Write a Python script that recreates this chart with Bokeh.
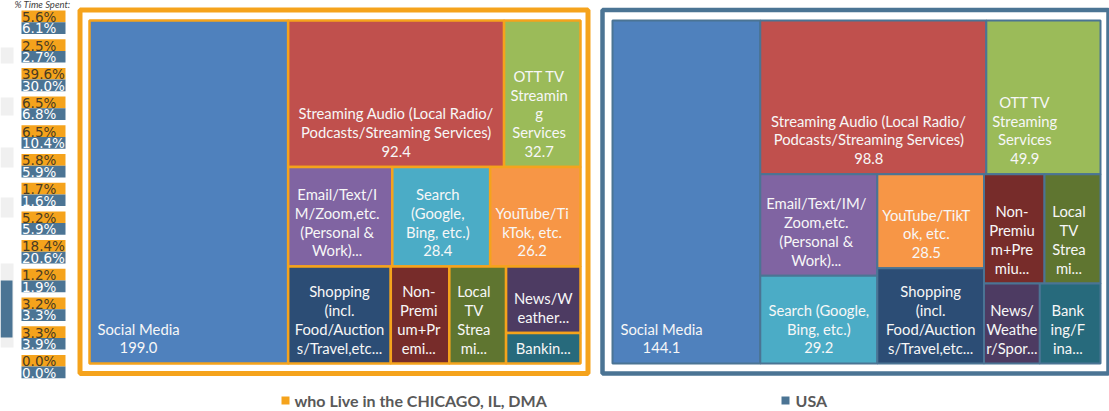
from bokeh.plotting import figure
from bokeh.models import Range1d, ColumnDataSource
from bokeh.embed import file_html
from bokeh.resources import INLINE
from bokeh.core.properties import value

# ---------------- data ----------------
categories = [
    "Social Media",
    "Streaming Audio (Local Radio/Podcasts/Streaming Services)",
    "OTT TV Streaming Services",
    "Email/Text/IM/Zoom,etc. (Personal & Work)",
    "Search (Google, Bing, etc.)",
    "YouTube/TikTok, etc.",
    "Shopping (incl. Food/Auctions/Travel,etc.)",
    "Non-Premium+Premium",
    "Local TV Streaming",
    "News/Weather/Sports",
    "Banking/Finance",
]
chicago_minutes = [199.0, 92.4, 32.7, 30.2, 28.4, 26.2, 29.1, 16.6, 16.1, 14.5, 6.6]
usa_minutes = [144.1, 98.8, 49.9, 33.8, 29.2, 28.5, 28.9, 18.8, 17.4, 12.7, 13.8]

cell_colors = ["#4F81BD", "#C0504D", "#9BBB59", "#8064A2", "#4BACC6", "#F79646",
               "#2C4D75", "#772C2A", "#5F7530", "#4D3B62", "#276A7C"]

chicago_labels = [
    ["Social Media", "199.0"],
    ["Streaming Audio (Local Radio/", "Podcasts/Streaming Services)", "92.4"],
    ["OTT TV", "Streamin", "g", "Services", "32.7"],
    ["Email/Text/I", "M/Zoom,etc.", "(Personal &", "Work)..."],
    ["Search", "(Google,", "Bing, etc.)", "28.4"],
    ["YouTube/Ti", "kTok, etc.", "26.2"],
    ["Shopping", "(incl.", "Food/Auction", "s/Travel,etc..."],
    ["Non-", "Premi", "um+Pr", "emi..."],
    ["Local", "TV", "Strea", "mi..."],
    ["News/W", "eather..."],
    ["Bankin..."],
]
usa_labels = [
    ["Social Media", "144.1"],
    ["Streaming Audio (Local Radio/", "Podcasts/Streaming Services)", "98.8"],
    ["OTT TV", "Streaming", "Services", "49.9"],
    ["Email/Text/IM/", "Zoom,etc.", "(Personal &", "Work)..."],
    ["Search (Google,", "Bing, etc.)", "29.2"],
    ["YouTube/TikT", "ok, etc.", "28.5"],
    ["Shopping", "(incl.", "Food/Auction", "s/Travel,etc..."],
    ["Non-", "Premiu", "m+Pre", "miu..."],
    ["Local", "TV", "Strea", "mi..."],
    ["News/", "Weathe", "r/Spor..."],
    ["Bank", "ing/F", "ina..."],
]

pct_chicago = [5.6, 2.5, 39.6, 6.5, 6.5, 5.8, 1.7, 5.2, 18.4, 1.2, 3.2, 3.3, 0.0]
pct_usa = [6.1, 2.7, 30.0, 6.8, 10.4, 5.9, 1.6, 5.9, 20.6, 1.9, 3.3, 3.9, 0.0]

legend_labels = ["who Live in the CHICAGO, IL, DMA", "USA"]

# layout trees (h = side by side, v = stacked), leaves are category indices
chicago_tree = ("h", [0, ("v", [("h", [1, 2]), ("h", [3, 4, 5]),
                                ("h", [6, 7, 8, ("v", [9, 10])])])])
usa_tree = ("h", [0, ("v", [("h", [1, 2]),
                            ("h", [("v", [3, 4]), ("v", [5, 6]),
                                   ("v", [("h", [7, 8]), ("h", [9, 10])])])])])

ORANGE = "#F5A31C"
STEEL = "#4B7494"
FONT = "Lato"

# ---------------- figure ----------------
W, H = 1109, 411
p = figure(width=W, height=H, x_range=Range1d(0, W), y_range=Range1d(H, 0),
           output_backend="svg", toolbar_location=None, min_border=0,
           x_axis_type=None, y_axis_type=None)
p.grid.visible = False
p.outline_line_color = None
p.background_fill_color = "white"
p.border_fill_color = "white"


def total(node, vals):
    if isinstance(node, int):
        return vals[node]
    return sum(total(k, vals) for k in node[1])


def layout(node, vals, x0, y0, x1, y1, out):
    if isinstance(node, int):
        out[node] = (x0, y0, x1, y1)
        return
    d, kids = node
    sums = [total(k, vals) for k in kids]
    S = sum(sums)
    pos = x0 if d == "h" else y0
    for k, s in zip(kids, sums):
        if d == "h":
            w = (x1 - x0) * s / S
            layout(k, vals, pos, y0, pos + w, y1, out)
            pos += w
        else:
            h = (y1 - y0) * s / S
            layout(k, vals, x0, pos, x1, pos + h, out)
            pos += h


def draw_treemap(tree, vals, labels, box, border, lw):
    rects = {}
    layout(tree, vals, box[0], box[1], box[2], box[3], rects)
    idx = sorted(rects)
    src = ColumnDataSource(dict(
        left=[rects[i][0] for i in idx], right=[rects[i][2] for i in idx],
        top=[rects[i][1] for i in idx], bottom=[rects[i][3] for i in idx],
        color=[cell_colors[i] for i in idx], name=[categories[i] for i in idx],
        val=[vals[i] for i in idx]))
    p.quad(left="left", right="right", top="top", bottom="bottom", source=src,
           fill_color="color", line_color=border, line_width=lw)
    xs, ys, ts = [], [], []
    for i in idx:
        x0, y0, x1, y1 = rects[i]
        lines = labels[i]
        n = len(lines)
        bw = max(len(s) for s in lines) * 7.0
        cx = min((x0 + x1) / 2, x0 + 7 + bw / 2)
        for j, s in enumerate(lines):
            xs.append(cx)
            ys.append(y1 - 16 - (n - 1 - j) * 18.8)
            ts.append(s)
    p.text(x=xs, y=ys, text=ts, text_font=value(FONT), text_font_size=value("14.8px"),
           text_color="#F7F7F7", text_align="center", text_baseline="middle")


# frames
p.quad(left=[79.5], right=[587.5], top=[9.5], bottom=[373], fill_color=None,
       line_color=ORANGE, line_width=5)
p.quad(left=[602], right=[1108], top=[9.5], bottom=[373], fill_color=None,
       line_color=STEEL, line_width=4.5)

draw_treemap(chicago_tree, chicago_minutes, chicago_labels, (89, 20, 580, 363), ORANGE, 2.5)
draw_treemap(usa_tree, usa_minutes, usa_labels, (612, 20, 1100, 363), STEEL, 2)

# left faint decorations (cut-off elements of the page)
p.quad(left=[0] * 5, right=[13] * 5, top=[47, 97, 147, 197, 263],
       bottom=[63, 115, 167, 217, 347], fill_color="#F0F0F0", line_color=None)
p.quad(left=[0], right=[12], top=[280], bottom=[337], fill_color=STEEL, line_color=None)

# sidebar % time spent
p.text(x=[14], y=[4], text=["% Time Spent:"], text_font=value(FONT),
       text_font_size=value("9.5px"), text_font_style="italic", text_color="#404040",
       text_align="left", text_baseline="middle")
n = len(pct_chicago)
tops = [10 + i * 28.7 for i in range(n)]
p.quad(left=[21] * n, right=[65] * n, top=tops, bottom=[t + 11.7 for t in tops],
       fill_color=ORANGE, line_color=None)
p.quad(left=[21] * n, right=[65] * n, top=[t + 11.7 for t in tops],
       bottom=[t + 23.4 for t in tops], fill_color=STEEL, line_color=None)
p.text(x=[21.5] * n, y=[t + 6.3 for t in tops], text=[f"{v:.1f}%" for v in pct_chicago],
       text_font=value("DejaVu Sans"), text_font_size=value("13.5px"), text_color="#4A3B22",
       text_align="left", text_baseline="middle")
p.text(x=[21.5] * n, y=[t + 17.8 for t in tops], text=[f"{v:.1f}%" for v in pct_usa],
       text_font=value("DejaVu Sans"), text_font_size=value("13.5px"), text_color="#FFFFFF",
       text_align="left", text_baseline="middle")

# legend
p.quad(left=[281, 781], right=[289, 789], top=[396, 396], bottom=[404, 404],
       fill_color=[ORANGE, STEEL], line_color=None)
p.text(x=[294, 795], y=[400, 400], text=legend_labels, text_font=value(FONT),
       text_font_size=value("16px"), text_font_style="bold", text_color="#595959",
       text_align="left", text_baseline="middle")

open("out.html", "w").write(file_html(p, INLINE))
